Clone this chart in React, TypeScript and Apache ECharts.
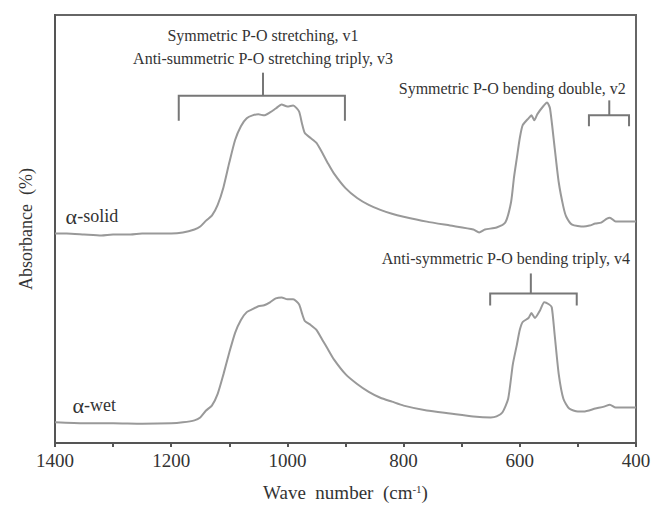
import React, { useEffect, useRef } from "react";
import * as echarts from "echarts";

const solidWave = [1400, 1380, 1350, 1320, 1300, 1270, 1250, 1220, 1200, 1180, 1160, 1150, 1140, 1130, 1120, 1110, 1100, 1090, 1080, 1070, 1060, 1050, 1040, 1030, 1020, 1010, 1000, 990, 980, 975, 970, 960, 950, 940, 930, 920, 900, 880, 860, 840, 820, 800, 760, 720, 680, 670, 660, 640, 625, 615, 610, 605, 600, 595, 585, 580, 575, 570, 560, 553, 548, 540, 533, 525, 520, 510, 490, 480, 470, 460, 450, 445, 435, 420, 400];
const solidAbs = [213, 213, 212, 211, 212, 212, 213, 213, 213, 214, 217, 220, 226, 231, 242, 260, 285, 308, 322, 330, 333, 334, 333, 336, 340, 344, 342, 343, 337, 325, 315, 310, 305, 295, 284, 274, 259, 249, 242, 237, 233, 230, 225, 221, 217, 214, 217, 219, 224, 245, 270, 290, 310, 323, 330, 333, 328, 334, 342, 346, 340, 300, 265, 240, 230, 222, 220, 221, 223, 224, 228, 229, 225, 225, 225];

const wetWave = [1400, 1350, 1300, 1250, 1200, 1180, 1160, 1150, 1140, 1130, 1120, 1110, 1100, 1090, 1080, 1070, 1060, 1050, 1040, 1030, 1020, 1010, 1000, 990, 980, 975, 970, 960, 950, 940, 930, 920, 900, 880, 860, 840, 820, 800, 760, 720, 680, 650, 640, 630, 620, 612, 605, 600, 595, 585, 580, 574, 565, 558, 550, 545, 540, 533, 525, 515, 500, 490, 470, 455, 445, 435, 420, 400];
const wetAbs = [21, 20, 20, 19.5, 20, 21, 23, 26, 33, 38, 50, 70, 92, 112, 125, 133, 136, 139, 140, 143, 147, 148, 146, 146, 141, 132, 124, 120, 115, 105, 95, 85, 70, 60, 52, 46, 42, 38, 33, 30, 27, 26, 27, 31, 45, 80, 100, 115, 123, 127, 132, 127, 135, 143, 141, 138, 110, 70, 45, 35, 32, 32, 35, 37, 39, 36, 36, 36];

const xTicks = [1400, 1200, 1000, 800, 600, 400];

const bandLabels = [
  ["Symmetric P-O stretching, v1", "Anti-summetric P-O stretching triply, v3"],
  ["Symmetric P-O bending double, v2"],
  ["Anti-symmetric P-O bending triply, v4"],
];
const bandFrom = [1187, 481, 651];
const bandTo = [901, 412, 502];
const bandCenter = [1042, 446, 581];
const bandLevel = [353, 333, 152];

const stemLen = [23, 15, 20];
const tipLen = [25, 11, 12];
const textOffsetX = [0, -97, -25];
const textGap = [14, 12, 15];

const FONT = "'Liberation Serif', 'DejaVu Serif', serif";

export default function App() {
  const ref = useRef<HTMLDivElement>(null);
  useEffect(() => {
    document.body.style.margin = "0";
    const chart = echarts.init(ref.current!, null, { renderer: "svg" });
    const toPairs = (w: number[], a: number[]) => w.map((x, i) => [x, a[i]]);
    chart.setOption({
      animation: false,
      backgroundColor: "#fff",
      grid: { left: 55, right: 18, top: 15, bottom: 57, show: true, borderColor: "#666", borderWidth: 2 },
      xAxis: {
        type: "value",
        min: 400,
        max: 1400,
        interval: 100,
        inverse: true,
        name: "Wave  number  (cm{sup|-1})",
        nameLocation: "middle",
        nameGap: 40,
        nameTextStyle: {
          fontFamily: FONT,
          fontSize: 19,
          color: "#333",
          rich: { sup: { fontFamily: FONT, fontSize: 11, color: "#333", verticalAlign: "top", padding: [0, 0, 8, 0] } },
        },
        axisLine: { lineStyle: { color: "#555", width: 2 } },
        axisTick: { length: 4, lineStyle: { color: "#555", width: 2 } },
        splitLine: { show: false },
        axisLabel: {
          fontFamily: FONT,
          fontSize: 19,
          color: "#333",
          margin: 8,
          formatter: (v: number) => (xTicks.includes(v) ? String(v) : ""),
        },
      },
      yAxis: {
        type: "value",
        min: 0,
        max: 435,
        name: "Absorbance  (%)",
        nameLocation: "middle",
        nameGap: 20,
        nameTextStyle: { fontFamily: FONT, fontSize: 18, color: "#333" },
        axisLine: { show: true, lineStyle: { color: "#555", width: 2 } },
        axisTick: { show: false },
        axisLabel: { show: false },
        splitLine: { show: false },
      },
      series: [
        {
          type: "line",
          data: toPairs(solidWave, solidAbs),
          showSymbol: false,
          smooth: 0.2,
          lineStyle: { color: "#999", width: 2 },
        },
        {
          type: "line",
          data: toPairs(wetWave, wetAbs),
          showSymbol: false,
          smooth: 0.2,
          lineStyle: { color: "#999", width: 2 },
        },
      ],
    });

    const px = (w: number, v: number) => chart.convertToPixel({ gridIndex: 0 }, [w, v]) as number[];
    const graphics: any[] = [];
    bandLabels.forEach((lines, i) => {
      const [xl, yb] = px(bandFrom[i], bandLevel[i]);
      const [xr] = px(bandTo[i], bandLevel[i]);
      const [xc] = px(bandCenter[i], bandLevel[i]);
      graphics.push({
        type: "polyline",
        shape: { points: [[xl, yb + tipLen[i]], [xl, yb], [xr, yb], [xr, yb + tipLen[i]]] },
        style: { stroke: "#777", lineWidth: 2, fill: null },
      });
      graphics.push({
        type: "line",
        shape: { x1: xc, y1: yb, x2: xc, y2: yb - stemLen[i] },
        style: { stroke: "#777", lineWidth: 2 },
      });
      const mid = yb - stemLen[i] - textGap[i];
      lines
        .slice()
        .reverse()
        .forEach((t, j) => {
          graphics.push({
            type: "text",
            x: xc + textOffsetX[i],
            y: mid - j * 23,
            style: {
              text: t,
              font: `16px ${FONT}`,
              fill: "#333",
              textAlign: "center",
              textVerticalAlign: "middle",
            },
          });
        });
    });

    const [lx, ly] = px(1380, solidAbs[0]);
    const [wx, wy] = px(1370, wetAbs[0]);
    const seriesLabel = (x: number, y: number, name: string) => ({
      type: "text",
      x,
      y,
      style: {
        text: `{a|α}{b|-${name}}`,
        textVerticalAlign: "middle",
        rich: {
          a: { fontFamily: FONT, fontSize: 22, fill: "#333", color: "#333" },
          b: { fontFamily: FONT, fontSize: 18, fill: "#333", color: "#333" },
        },
      },
    });
    graphics.push(seriesLabel(lx - 1, ly - 17, "solid"));
    graphics.push(seriesLabel(wx, wy - 17, "wet"));

    chart.setOption({ graphic: graphics });
    return () => chart.dispose();
  }, []);
  return <div ref={ref} style={{ width: 654, height: 507 }} />;
}
